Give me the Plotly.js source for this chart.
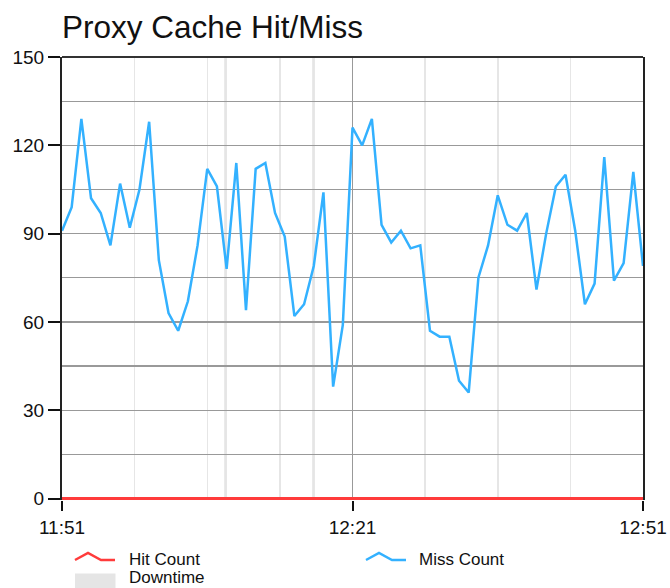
<!DOCTYPE html>
<html>
<head>
<meta charset="utf-8">
<script src="https://cdn.plot.ly/plotly-3.0.1.min.js"></script>
<style>html,body{margin:0;padding:0;background:#fff;}#chart{width:670px;height:588px;}</style>
</head>
<body>
<div id="chart"></div>
<script>
var day = '2024-01-01 ';
var times = ["11:51","11:52","11:53","11:54","11:55","11:56","11:57","11:58","11:59","12:00",
  "12:01","12:02","12:03","12:04","12:05","12:06","12:07","12:08","12:09","12:10",
  "12:11","12:12","12:13","12:14","12:15","12:16","12:17","12:18","12:19","12:20",
  "12:21","12:22","12:23","12:24","12:25","12:26","12:27","12:28","12:29","12:30",
  "12:31","12:32","12:33","12:34","12:35","12:36","12:37","12:38","12:39","12:40",
  "12:41","12:42","12:43","12:44","12:45","12:46","12:47","12:48","12:49","12:50","12:51"];
var missCount = [91,99,129,102,97,86,107,92,105,128,
  81,63,57,67,86,112,106,78,114,64,
  112,114,97,89,62,66,79,104,38,59,
  126,120,129,93,87,91,85,86,57,55,
  55,40,36,75,86,103,93,91,97,71,
  90,106,110,91,66,73,116,74,80,111,79];
var hitCount = [0,0,0,0,0,0,0,0,0,0,0,0,0,0,0,0,0,0,0,0,0,0,0,0,0,0,0,0,0,0,
  0,0,0,0,0,0,0,0,0,0,0,0,0,0,0,0,0,0,0,0,0,0,0,0,0,0,0,0,0,0,0];
var downtimeStart = ["12:07:45","12:16:50"];
var downtimeEnd = ["12:08:02","12:17:07"];
var xTickVals = ["11:51","12:21","12:51"];
var seriesNames = ["Hit Count","Miss Count","Downtime"];

var HIT = '#ff3b3b', MISS = '#33b1ff', DOWN = '#e5e5e5';
var FONT = 'Liberation Sans, Arial, Helvetica, sans-serif';
var W = 670, H = 588, L = 62, R = 27, T = 57, B = 88;
var pw = W - L - R, ph = H - T - B;
function px(x){ return (x - L) / pw; }
function py(y){ return (H - B - y) / ph; }

var xs = times.map(function(t){ return day + t; });

var traces = [
  {x: xs, y: missCount, name: seriesNames[1], type: 'scatter', mode: 'lines',
   line: {color: MISS, width: 2.5}, hoverinfo: 'skip'},
  {x: xs, y: hitCount, name: seriesNames[0], type: 'scatter', mode: 'lines',
   line: {color: HIT, width: 3}, hoverinfo: 'skip'}
];

var shapes = [];
for (var i = 0; i < downtimeStart.length; i++) {
  shapes.push({type: 'rect', xref: 'x', yref: 'paper', x0: day + downtimeStart[i], x1: day + downtimeEnd[i],
    y0: 0, y1: 1, fillcolor: DOWN, line: {width: 0}, layer: 'below'});
}
// top border
shapes.push({type: 'line', xref: 'paper', yref: 'paper', x0: 0, x1: 1, y0: 1, y1: 1,
  line: {color: '#333', width: 2}});
// legend icons
function zig(x0, col){
  return {type: 'path', xref: 'paper', yref: 'paper',
    path: 'M' + px(x0) + ',' + py(560) + ' L' + px(x0 + 13) + ',' + py(553) +
          ' L' + px(x0 + 26) + ',' + py(560) + ' L' + px(x0 + 40) + ',' + py(560),
    line: {color: col, width: 2.5}};
}
shapes.push(zig(75, HIT));
shapes.push(zig(366, MISS));
shapes.push({type: 'rect', xref: 'paper', yref: 'paper', x0: px(75), x1: px(115.5), y0: py(573.5), y1: py(588),
  fillcolor: DOWN, line: {width: 0}});

function leg(text, x, y){
  return {text: text, xref: 'paper', yref: 'paper', x: px(x), y: py(y), xanchor: 'left', yanchor: 'middle',
    showarrow: false, font: {family: FONT, size: 17, color: '#111'}};
}
var annotations = [leg(seriesNames[0], 127, 559.5), leg(seriesNames[1], 417, 559.5), leg(seriesNames[2], 127, 577.5)];

var layout = {
  width: W, height: H,
  margin: {l: L, r: R, t: T, b: B, pad: 0},
  paper_bgcolor: '#fff', plot_bgcolor: '#fff',
  showlegend: false,
  font: {family: FONT, color: '#111'},
  title: {text: 'Proxy Cache Hit/Miss', x: px(62), xanchor: 'left', xref: 'paper',
    y: 1 - 27/H, yref: 'container', yanchor: 'middle',
    font: {family: FONT, size: 31.5, color: '#111'}},
  xaxis: {type: 'date', range: [day + times[0], day + times[times.length - 1]],
    tickmode: 'array', tickvals: xTickVals.map(function(t){ return day + t; }), ticktext: xTickVals,
    ticks: 'outside', ticklen: 10, tickwidth: 2, tickcolor: '#111',
    tickfont: {family: FONT, size: 19, color: '#111'},
    showgrid: true, gridcolor: '#999', gridwidth: 1.3,
    minor: {dtick: 450000, tick0: day + times[0], showgrid: true, gridcolor: '#e6e6e6', gridwidth: 1.5, ticks: ''},
    showline: false, zeroline: false, fixedrange: true},
  yaxis: {range: [-0.5, 150], tickmode: 'linear', tick0: 0, dtick: 30,
    ticks: 'outside', ticklen: 12, tickwidth: 2, tickcolor: '#111',
    tickfont: {family: FONT, size: 19, color: '#111'},
    showgrid: true, gridcolor: '#999', gridwidth: 1.3,
    minor: {dtick: 15, tick0: 0, showgrid: true, gridcolor: '#999', gridwidth: 1.3, ticks: ''},
    showline: true, mirror: true, linecolor: '#222', linewidth: 2,
    zeroline: false, fixedrange: true},
  shapes: shapes,
  annotations: annotations
};

Plotly.newPlot('chart', traces, layout, {displayModeBar: false, staticPlot: true});
</script>
</body>
</html>
